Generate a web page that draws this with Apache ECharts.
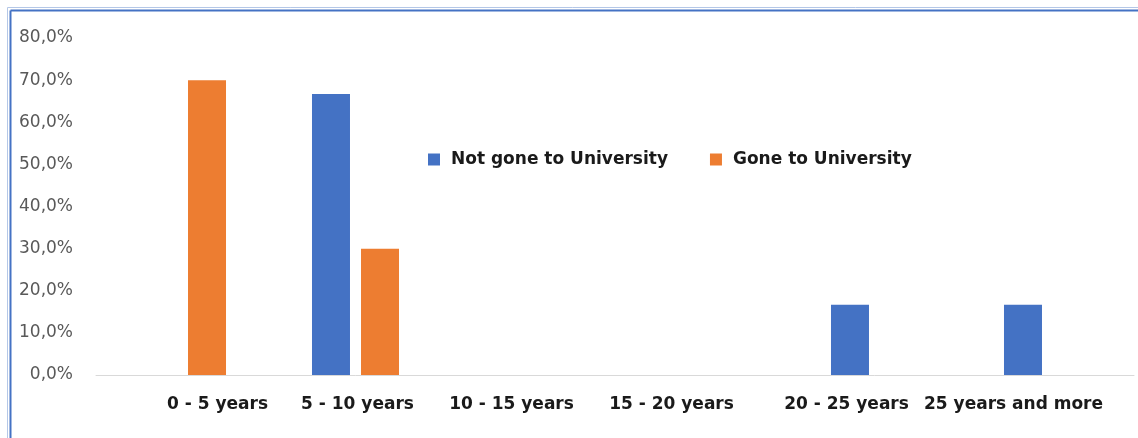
<!DOCTYPE html>
<html>
<head>
<meta charset="utf-8">
<script src="https://cdn.jsdelivr.net/npm/echarts@6/dist/echarts.min.js"></script>
<style>html,body{margin:0;padding:0;background:#fff}#c{width:1138px;height:438px}</style>
</head>
<body>
<div id="c"></div>
<script>
const categories = ['0 - 5 years', '5 - 10 years', '10 - 15 years', '15 - 20 years', '20 - 25 years', '25 years and more'];
const notGone = [0, 66.7, 0, 0, 16.7, 16.7];
const gone = [70.0, 30.0, 0, 0, 0, 0];
const seriesNames = ['Not gone to University', 'Gone to University'];
const yTicks = [0, 10, 20, 30, 40, 50, 60, 70, 80];

// label horizontal shifts (style only), as drawn in the reference
const labelShift = [35, 2, -17, -30, -28, -34];
const rich = {};
labelShift.forEach((d, i) => {
  rich['l' + i] = {
    fontFamily: 'DejaVu Sans', fontWeight: 'bold', fontSize: 17, color: '#1a1a1a',
    padding: d >= 0 ? [0, 0, 0, 2 * d] : [0, 2 * -d, 0, 0]
  };
});

const chart = echarts.init(document.getElementById('c'));
chart.setOption({
  animation: false,
  backgroundColor: '#fff',
  graphic: [
    { type: 'line', shape: { x1: 7.5, y1: 7.5, x2: 1138, y2: 7.5 }, style: { stroke: '#b4c7e7', lineWidth: 1 } },
    { type: 'line', shape: { x1: 7.5, y1: 7.5, x2: 7.5, y2: 438 }, style: { stroke: '#b4c7e7', lineWidth: 1 } },
    { type: 'line', shape: { x1: 10.5, y1: 10.5, x2: 1138, y2: 10.5 }, style: { stroke: '#4472c4', lineWidth: 2 } },
    { type: 'line', shape: { x1: 10.5, y1: 10.5, x2: 10.5, y2: 438 }, style: { stroke: '#4472c4', lineWidth: 2 } }
  ],
  legend: {
    left: 428, top: 151, padding: 0,
    itemWidth: 12, itemHeight: 12, itemGap: 42,
    icon: 'rect',
    textStyle: { fontFamily: 'DejaVu Sans', fontWeight: 'bold', fontSize: 17, color: '#1a1a1a', padding: [0, 0, 0, 6] },
    data: seriesNames
  },
  grid: { left: 96, right: 4, top: 38, bottom: 63, containLabel: false },
  xAxis: {
    type: 'category',
    data: categories,
    axisLine: { lineStyle: { color: '#d9d9d9', width: 1 } },
    axisTick: { show: false },
    axisLabel: {
      margin: 21, interval: 0, hideOverlap: false,
      formatter: (v, i) => '{l' + i + '|' + v + '}',
      rich: rich
    }
  },
  yAxis: {
    type: 'value',
    min: 0, max: 80, interval: 10,
    splitLine: { show: false },
    axisLine: { show: false },
    axisTick: { show: false },
    axisLabel: {
      fontFamily: 'DejaVu Sans', fontSize: 17, color: '#595959', margin: 23,
      formatter: v => v.toFixed(1).replace('.', ',') + '%'
    }
  },
  series: [
    { name: seriesNames[0], type: 'bar', data: notGone, barWidth: 38, barGap: '29%', itemStyle: { color: '#4472c4' } },
    { name: seriesNames[1], type: 'bar', data: gone, barWidth: 38, barGap: '29%', itemStyle: { color: '#ed7d31' } }
  ]
});
</script>
</body>
</html>
